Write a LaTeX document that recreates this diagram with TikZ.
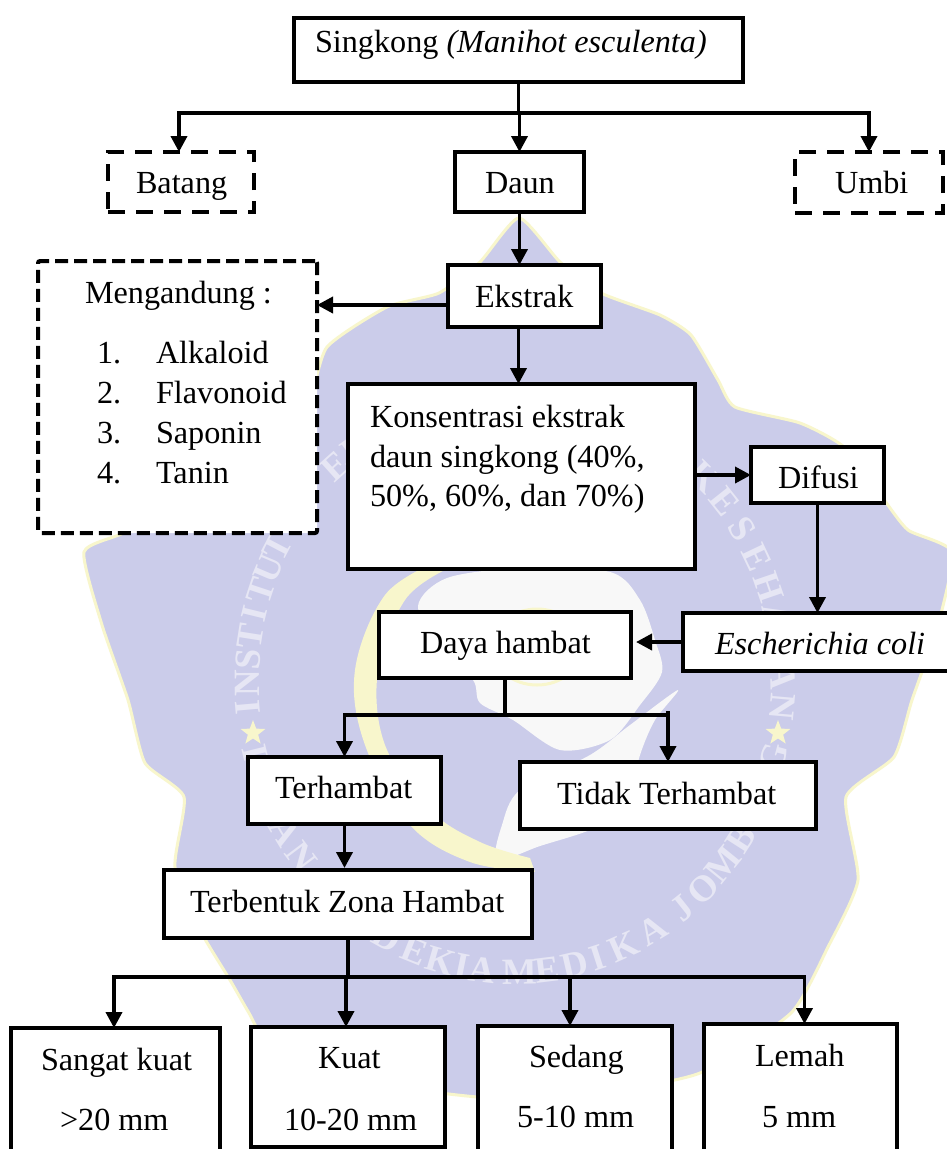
\documentclass[tikz,border=0pt]{standalone}
\usepackage{fontspec}
\setmainfont{Liberation Serif}
\usetikzlibrary{arrows.meta,shapes.geometric}
\definecolor{wmblue}{HTML}{CBCCEA}
\definecolor{wmtext}{HTML}{E6E6F4}
\definecolor{wmyellow}{HTML}{F8F6CC}
\definecolor{wmwhite}{HTML}{F8F8F8}
\tikzset{
  solidbox/.style={draw=black,fill=white,line width=4pt,inner sep=0pt,outer sep=0pt},
  dashbox/.style={solidbox,dash pattern=on 17pt off 11pt},
  dashlong/.style={solidbox,dash pattern=on 13pt off 6pt,rounded corners=2pt},
  lbl/.style={anchor=base west,inner sep=0pt,outer sep=0pt,font=\fontsize{32.2}{36}\selectfont},
  link/.style={line width=3.7pt,draw=black},
  conn/.style={link,-{Triangle[length=16pt,width=16pt]}},
  wmletter/.style={text=wmtext,inner sep=0pt,font=\fontsize{37}{37}\selectfont\bfseries},
  wmstar/.style={star,star points=5,star point ratio=2.4,fill=wmyellow,minimum size=26pt,inner sep=0pt}
}
\newcommand{\bx}[6]{\node[#1,minimum width={(#4-#2)*1pt},minimum height={(#5-#3)*1pt}] (#6) at ({(#2+#4)/2},{(#3+#5)/2}) {};}
\begin{document}
\begin{tikzpicture}[x=1pt,y=-1pt]
\useasboundingbox (0,0) rectangle (947,1149);
\fill[white] (0,0) rectangle (947,1149);
% watermark
\draw[wmyellow,line width=3pt,fill=wmblue] plot[smooth cycle,tension=.35] coordinates {
 (519,218) (560,262) (601,293) (660,315) (691,335) (718,380) (735,407) (800,423) (844,447) (882,497) (908,530) (952,552)
 (938,625) (912,700) (894,757) (846,797) (858,880) (828,947) (791,1013) (700,1073) (600,1093) (520,1100) (441,1093)
 (340,1075) (272,1050) (249,1013) (230,980) (200,930) (175,867) (184,797) (145,763) (128,700) (102,625) (84,552)
 (125,532) (158,497) (196,447) (240,423) (305,407) (327,347) (387,307) (439,293) (480,262)};
\fill[wmwhite] plot[smooth cycle,tension=.5] coordinates {
 (418,606) (447,578) (520,568) (610,572) (640,600) (655,640) (662,672) (640,705) (610,740) (560,750) (513,720) (480,703) (473,680) (440,650)};
\fill[wmwhite] plot[smooth cycle,tension=.5] coordinates {
 (678,690) (655,720) (640,755) (625,810) (590,830) (540,846) (497,860) (502,825) (520,790) (590,755) (630,725)};
\fill[wmyellow] plot[smooth,tension=.6] coordinates {(436,562) (385,595) (355,670) (365,745) (410,825) (470,862) (535,872)}
 -- plot[smooth,tension=.6] coordinates {(530,858) (480,842) (430,810) (385,745) (378,670) (405,600) (445,570)} -- cycle;
\draw[wmyellow,line width=3pt] (537,647) ellipse (45 and 38);
\foreach \ch/\t [count=\i] in {I/175,N/179.7,S/184.4,T/189,I/193.7,T/198.4,U/203,T/207.7,E/228,K/234,K/315,E/321.5,S/328,E/334.5,H/341,A/347,A/359,N/5}
  \node[wmletter,rotate={270-\t}] (wa\i) at ({515+268*cos(\t)},{682+290*sin(\t)}) {\ch};
\foreach \ch/\t [count=\i] in {I/166,A/149,N/143,D/118.5,E/112,K/106,I/101.5,A/97,M/89,E/83,D/77,I/72,K/66,A/59,J/51.4,O/45.5,M/39,B/32.6,G/15}
  \node[wmletter,rotate={90-\t}] (wb\i) at ({515+268*cos(\t)},{682+290*sin(\t)}) {\ch};
\node[wmstar] (starl) at (253,733) {};
\node[wmstar] (starr) at (778,733) {};
% boxes
\bx{solidbox}{294}{18}{743}{82}{singkong}
\bx{dashbox}{108}{152}{254}{212}{batang}
\bx{solidbox}{455}{152}{584}{212}{daun}
\bx{dashbox}{795}{152}{943}{213}{umbi}
\bx{dashlong}{38}{261}{317}{533}{meng}
\bx{solidbox}{448}{265}{601}{327}{ekstrak}
\bx{solidbox}{348}{384}{695}{569}{kons}
\bx{solidbox}{751}{447}{884}{503}{difusi}
\bx{solidbox}{683}{613}{960}{671}{eco}
\bx{solidbox}{379}{612}{631}{678}{daya}
\bx{solidbox}{248}{757}{441}{824}{terh}
\bx{solidbox}{520}{762}{816}{829}{tidak}
\bx{solidbox}{164}{870}{532}{938}{terb}
\bx{solidbox}{11}{1028}{220}{1165}{sangat}
\bx{solidbox}{251}{1027}{445}{1147}{kuat}
\bx{solidbox}{478}{1026}{672}{1165}{sedang}
\bx{solidbox}{704}{1024}{897}{1165}{lemah}
% labels
\node[lbl] (t1) at (315,52) {Singkong \textit{(Manihot esculenta)}};
\node[lbl] (t2) at (136,193) {Batang};
\node[lbl] (t3) at (485,193) {Daun};
\node[lbl] (t4) at (835,193) {Umbi};
\node[lbl] (t5) at (85,303) {Mengandung :};
\node[lbl] (t6) at (475,307) {Ekstrak};
\node[lbl] (n1) at (97,363) {1.};
\node[lbl] (n2) at (97,403) {2.};
\node[lbl] (n3) at (97,443) {3.};
\node[lbl] (n4) at (97,483) {4.};
\node[lbl] (m1) at (156,363) {Alkaloid};
\node[lbl] (m2) at (156,403) {Flavonoid};
\node[lbl] (m3) at (156,443) {Saponin};
\node[lbl] (m4) at (156,483) {Tanin};
\node[lbl] (k1) at (370,427) {Konsentrasi ekstrak};
\node[lbl] (k2) at (370,467) {daun singkong (40\%,};
\node[lbl] (k3) at (370,506) {50\%, 60\%, dan 70\%)};
\node[lbl] (t7) at (778,488) {Difusi};
\node[lbl] (t8) at (715,654) {\textit{Escherichia coli}};
\node[lbl] (t9) at (420,653) {Daya hambat};
\node[lbl] (t10) at (275,798) {Terhambat};
\node[lbl] (t11) at (557,804) {Tidak Terhambat};
\node[lbl] (t12) at (190,912) {Terbentuk Zona Hambat};
\node[lbl] (s1) at (41,1070) {Sangat kuat};
\node[lbl] (s2) at (60,1130) {>20 mm};
\node[lbl] (u1) at (318,1068) {Kuat};
\node[lbl] (u2) at (284,1130) {10-20 mm};
\node[lbl] (d1) at (529,1067) {Sedang};
\node[lbl] (d2) at (517,1127) {5-10 mm};
\node[lbl] (l1) at (755,1066) {Lemah};
\node[lbl] (l2) at (762,1127) {5 mm};
% junctions
\coordinate (j1) at (singkong.south |- 0,113);
\coordinate (j2) at (daya.south |- 0,715);
\coordinate (j3) at (terb.south |- 0,977);
% connectors
\draw[link] (singkong.south) -- (j1);
\draw[link,line cap=rect] ([xshift=-2pt]batang.north |- j1) -- (umbi.north |- j1);
\draw[conn] ([xshift=-2pt]batang.north |- j1) -- ([xshift=-2pt]batang.north);
\draw[conn] (daun.north |- j1) -- (daun.north);
\draw[conn] (umbi.north |- j1) -- (umbi.north);
\draw[conn] (daun.south) -- (daun.south |- ekstrak.north);
\draw[conn] ([yshift=-9pt]ekstrak.west) -- ([yshift=-9pt]ekstrak.west -| meng.east);
\draw[conn] ([xshift=-6pt]ekstrak.south) -- ([xshift=-6pt]ekstrak.south |- kons.north);
\draw[conn] (difusi.west -| kons.east) -- (difusi.west);
\draw[conn] (difusi.south) -- (difusi.south |- eco.north);
\draw[conn,shorten >=5pt] (eco.west) -- (eco.west -| daya.east);
\draw[link] (daya.south) -- (j2);
\draw[link,line cap=rect] (terh.north |- j2) -- (tidak.north |- j2);
\draw[conn] (terh.north |- j2) -- (terh.north);
\draw[conn] ([yshift=4pt]tidak.north |- j2) -- (tidak.north);
\draw[conn,shorten >=2pt] (terh.south) -- (terh.south |- terb.north);
\draw[link] (terb.south) -- (j3);
\draw[link,line cap=rect] ([xshift=-1.5pt]sangat.north |- j3) -- ([xshift=4pt]lemah.north |- j3);
\draw[conn] ([xshift=-1.5pt]sangat.north |- j3) -- ([xshift=-1.5pt]sangat.north);
\draw[conn] ([xshift=-2pt]kuat.north |- j3) -- ([xshift=-2pt]kuat.north);
\draw[conn] ([xshift=-5pt]sedang.north |- j3) -- ([xshift=-5pt]sedang.north);
\draw[conn] ([xshift=4pt]lemah.north |- j3) -- ([xshift=4pt]lemah.north);
\end{tikzpicture}
\end{document}
